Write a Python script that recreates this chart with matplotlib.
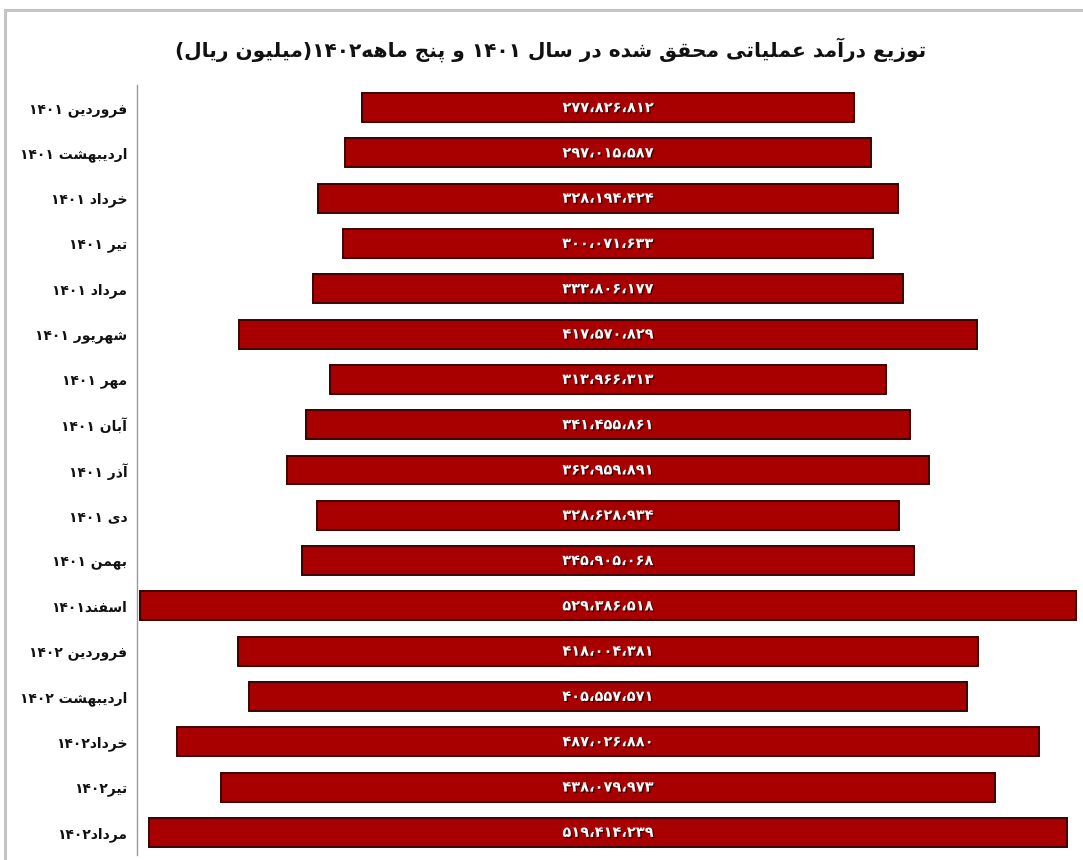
import matplotlib
matplotlib.use("Agg")
import matplotlib.pyplot as plt
from matplotlib.lines import Line2D
import matplotlib.patheffects as pe

# ---------------- data ----------------
title_text = "توزیع درآمد عملیاتی محقق شده در سال ۱۴۰۱ و پنج ماهه۱۴۰۲(میلیون ریال)"
months = ["فروردین ۱۴۰۱", "اردیبهشت ۱۴۰۱", "خرداد ۱۴۰۱", "تیر ۱۴۰۱", "مرداد ۱۴۰۱",
          "شهریور ۱۴۰۱", "مهر ۱۴۰۱", "آبان ۱۴۰۱", "آذر ۱۴۰۱", "دی ۱۴۰۱", "بهمن ۱۴۰۱",
          "اسفند۱۴۰۱", "فروردین ۱۴۰۲", "اردیبهشت ۱۴۰۲", "خرداد۱۴۰۲", "تیر۱۴۰۲", "مرداد۱۴۰۲"]
revenue = [277826812, 297015587, 328194424, 300071633, 333806177,
           417570829, 313966313, 341455861, 362959891, 328628934, 345905068,
           529386518, 418004381, 405557571, 487026880, 438079973, 519414239]

# ---------------- minimal Persian shaping + bidi ----------------
FORMS = {  # iso, fin, ini, med
    'ا': (0xFE8D, 0xFE8E), 'آ': (0xFE81, 0xFE82), 'د': (0xFEA9, 0xFEAA), 'ذ': (0xFEAB, 0xFEAC),
    'ر': (0xFEAD, 0xFEAE), 'ز': (0xFEAF, 0xFEB0), 'ژ': (0xFB8A, 0xFB8B), 'و': (0xFEED, 0xFEEE),
    'ب': (0xFE8F, 0xFE90, 0xFE91, 0xFE92), 'پ': (0xFB56, 0xFB57, 0xFB58, 0xFB59),
    'ت': (0xFE95, 0xFE96, 0xFE97, 0xFE98), 'ث': (0xFE99, 0xFE9A, 0xFE9B, 0xFE9C),
    'ج': (0xFE9D, 0xFE9E, 0xFE9F, 0xFEA0), 'چ': (0xFB7A, 0xFB7B, 0xFB7C, 0xFB7D),
    'ح': (0xFEA1, 0xFEA2, 0xFEA3, 0xFEA4), 'خ': (0xFEA5, 0xFEA6, 0xFEA7, 0xFEA8),
    'س': (0xFEB1, 0xFEB2, 0xFEB3, 0xFEB4), 'ش': (0xFEB5, 0xFEB6, 0xFEB7, 0xFEB8),
    'ص': (0xFEB9, 0xFEBA, 0xFEBB, 0xFEBC), 'ض': (0xFEBD, 0xFEBE, 0xFEBF, 0xFEC0),
    'ط': (0xFEC1, 0xFEC2, 0xFEC3, 0xFEC4), 'ظ': (0xFEC5, 0xFEC6, 0xFEC7, 0xFEC8),
    'ع': (0xFEC9, 0xFECA, 0xFECB, 0xFECC), 'غ': (0xFECD, 0xFECE, 0xFECF, 0xFED0),
    'ف': (0xFED1, 0xFED2, 0xFED3, 0xFED4), 'ق': (0xFED5, 0xFED6, 0xFED7, 0xFED8),
    'ک': (0xFB8E, 0xFB8F, 0xFB90, 0xFB91), 'گ': (0xFB92, 0xFB93, 0xFB94, 0xFB95),
    'ل': (0xFEDD, 0xFEDE, 0xFEDF, 0xFEE0), 'م': (0xFEE1, 0xFEE2, 0xFEE3, 0xFEE4),
    'ن': (0xFEE5, 0xFEE6, 0xFEE7, 0xFEE8), 'ه': (0xFEE9, 0xFEEA, 0xFEEB, 0xFEEC),
    'ی': (0xFBFC, 0xFBFD, 0xFBFE, 0xFBFF),
}
DIGITS = set("0123456789۰۱۲۳۴۵۶۷۸۹")
SEPS = set("،,.٬")
MIRROR = {'(': ')', ')': '('}


def shape(s):
    out = []
    for i, c in enumerate(s):
        if c not in FORMS:
            out.append(c)
            continue
        prev = s[i - 1] if i > 0 else ''
        nxt = s[i + 1] if i + 1 < len(s) else ''
        jp = prev in FORMS and len(FORMS[prev]) == 4
        dual = len(FORMS[c]) == 4
        jn = dual and nxt in FORMS
        f = FORMS[c]
        if jp and jn:
            out.append(chr(f[3]))
        elif jp:
            out.append(chr(f[1]))
        elif jn:
            out.append(chr(f[2]))
        else:
            out.append(chr(f[0]))
    return "".join(out)


def visual(s):
    s = shape(s)
    tokens = []
    i = 0
    while i < len(s):
        if s[i] in DIGITS:
            j = i
            while j < len(s) and (s[j] in DIGITS or (s[j] in SEPS and j + 1 < len(s) and s[j + 1] in DIGITS)):
                j += 1
            tokens.append(s[i:j])
            i = j
        else:
            tokens.append(MIRROR.get(s[i], s[i]))
            i += 1
    return "".join(reversed(tokens))


def fa_number(v):
    txt = f"{v:,}".replace(",", "،")
    return txt.translate(str.maketrans("0123456789", "۰۱۲۳۴۵۶۷۸۹"))


# ---------------- figure ----------------
plt.rcParams['font.family'] = ['DejaVu Sans']
W, H = 1083, 860
fig = plt.figure(figsize=(W / 100, H / 100), dpi=100)
fig.patch.set_facecolor('white')

ax = fig.add_axes([137 / W, 1 - 855 / H, 1 - 137 / W, (855 - 85) / H])
n = len(months)
ypos = list(range(n))
lefts = [-v / 2 for v in revenue]
ax.barh(ypos, revenue, left=lefts, height=0.64, color='#a80000',
        edgecolor='#3d0000', linewidth=1.4, zorder=2)
for y, v in zip(ypos, revenue):
    ax.text(0, y, fa_number(v), ha='center', va='center', color='white',
            fontsize=10.5, fontweight='bold', zorder=3,
            path_effects=[pe.withSimplePatchShadow(offset=(1, -1), shadow_rgbFace='#300000', alpha=0.8)])

scale = 1.768e-6  # px per unit
ax.set_xlim(-471 / scale, 475 / scale)
ax.set_ylim(n - 0.5, -0.5)
ax.set_yticks(ypos)
ax.set_yticklabels([visual(m) for m in months], fontsize=10, color='#111111',
                   fontweight='bold')
ax.tick_params(axis='y', length=0, pad=7)
ax.set_xticks([])
for side in ['top', 'right', 'bottom']:
    ax.spines[side].set_visible(False)
ax.spines['left'].set_color('#9a9a9a')
ax.spines['left'].set_linewidth(1.0)

fig.text(551 / W, 1 - 50 / H, visual(title_text), ha='center', va='center',
         fontsize=14.5, color='#111111', fontweight='bold')

# outer frame (top and left)
fig.add_artist(Line2D([5 / W, 1], [1 - 10 / H, 1 - 10 / H], color='#c4c4c4', lw=2.2))
fig.add_artist(Line2D([5 / W, 5 / W], [0, 1 - 10 / H], color='#c4c4c4', lw=2.2))

fig.savefig("out.png", dpi=100)
